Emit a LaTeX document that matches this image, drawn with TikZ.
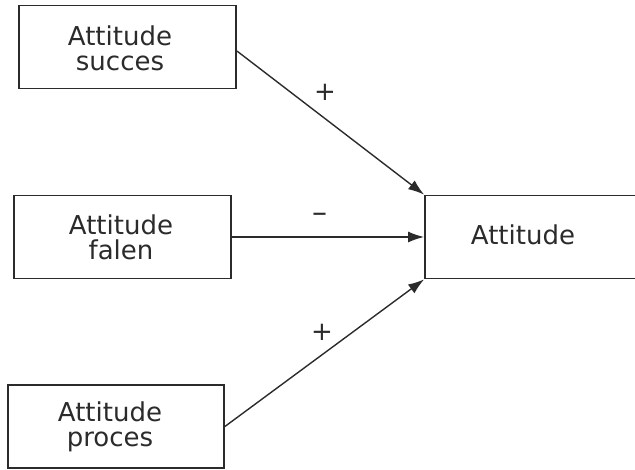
\documentclass[tikz,border=0pt]{standalone}
\usepackage{fontspec}
\setmainfont{DejaVu Sans}
\usetikzlibrary{arrows.meta}
\definecolor{ink}{HTML}{2B2B2B}
\begin{document}
\begin{tikzpicture}[x=1pt,y=-1pt,
  box/.style={draw=ink, line width=1.8pt, inner sep=0pt, minimum width=#1, minimum height=83pt},
  lbl/.style={text=ink, font=\fontsize{26}{25}\selectfont, align=center, inner sep=0pt},
  sign/.style={text=ink, font=\fontsize{26}{25}\selectfont, inner sep=0pt},
  link/.style={draw=ink, line width=1.4pt, -{Latex[length=16pt,width=11pt]}}]
\useasboundingbox (0,0) rectangle (635,470);
% boxes
\node[box=217pt] (succ) at (127.5,47) {};
\node[box=217pt] (fail) at (122.5,237) {};
\node[box=216pt] (proc) at (116,426.5) {};
\node[box=211pt] (att)  at (530.5,237) {};
% box texts
\node[lbl] (tsucc) at (120,48) {Attitude\\succes};
\node[lbl] (tfail) at (121,237) {Attitude\\falen};
\node[lbl] (tproc) at (110,427) {Attitude\\proces};
\node[lbl] (tatt)  at (523,235) {Attitude};
% connectors
\draw[link] ([yshift=-4pt]succ.east) -- (att.north west);
\draw[link] (fail.east) -- (att.west);
\draw[link] (proc.east) -- (att.south west);
% signs
\node[sign] (s1) at (325,92) {+};
\node[sign, font=\fontsize{30}{30}\selectfont] (s2) at (320,218) {–};
\node[sign] (s3) at (322,332) {+};
\end{tikzpicture}
\end{document}
